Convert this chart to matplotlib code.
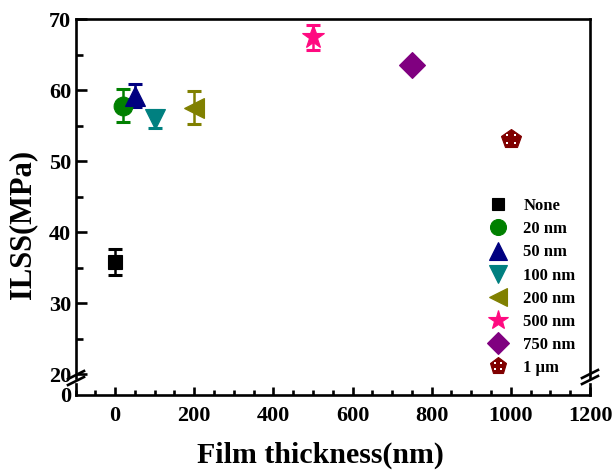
import matplotlib
matplotlib.use("Agg")
import matplotlib.pyplot as plt
from matplotlib.lines import Line2D
from matplotlib.path import Path
from matplotlib.ticker import MultipleLocator

# ---- data ----
labels = ["None", "20 nm", "50 nm", "100 nm", "200 nm", "500 nm", "750 nm", "1 \u03bcm"]
thickness = [0, 20, 50, 100, 200, 500, 750, 1000]
ilss = [35.8, 57.8, 59.2, 55.9, 57.5, 67.4, 63.5, 53.1]
ilss_err = [1.8, 2.3, 1.6, 1.3, 2.3, 1.7, 0.0, 0.0]
colors = ["#000000", "#008000", "#000080", "#008080", "#808000", "#FF0A80", "#800080", "#800000"]
markers = ["s", "o", "^", "v", "<", "*", "D", "p"]
msizes = [10.5, 13.5, 15, 15, 15, 17, 13, 15]
x_ticks = [0, 200, 400, 600, 800, 1000, 1200]
y_ticks = [20, 30, 40, 50, 60, 70]

plt.rcParams["font.family"] = ["Liberation Serif", "DejaVu Serif"]
plt.rcParams["font.weight"] = "bold"

W, H = 613, 472
fig = plt.figure(figsize=(W / 100, H / 100), dpi=100)

left, right = 75.5 / W, 590 / W
top_px, up_bot_px, lo_top_px, lo_bot_px = 19, 378, 384, 395
ax = fig.add_axes([left, 1 - up_bot_px / H, right - left, (up_bot_px - top_px) / H])
axl = fig.add_axes([left, 1 - lo_bot_px / H, right - left, (lo_bot_px - lo_top_px) / H], sharex=ax)

scale = (up_bot_px - top_px) / (70 - 19.44)
ax.set_ylim(19.44, 70)
axl.set_ylim(0, (lo_bot_px - lo_top_px) / scale)
ax.set_xlim(-100, 1200)

lw = 1.9
for a in (ax, axl):
    for s in a.spines.values():
        s.set_linewidth(lw)
ax.spines["bottom"].set_visible(False)
axl.spines["top"].set_visible(False)

ax.tick_params(axis="x", which="both", bottom=False, labelbottom=False)
ax.set_yticks(y_ticks)
ax.yaxis.set_minor_locator(MultipleLocator(5))
ax.tick_params(axis="y", which="major", direction="in", length=8, width=lw, labelsize=16, pad=3)
ax.tick_params(axis="y", which="minor", direction="in", length=5, width=lw)

axl.set_yticks([0])
axl.tick_params(axis="y", which="major", direction="in", length=0, labelsize=16, pad=3)
axl.set_xticks(x_ticks)
axl.xaxis.set_minor_locator(MultipleLocator(50))
axl.tick_params(axis="x", which="major", direction="in", length=6, width=lw, labelsize=16, pad=8)
axl.tick_params(axis="x", which="minor", direction="in", length=3.5, width=lw)
for t in ax.get_yticklabels() + axl.get_yticklabels() + axl.get_xticklabels():
    t.set_fontweight("bold")

# four-dot marker for the 1 um symbol
def dots_path():
    verts, codes = [], []
    for cx in (-0.5, 0.5):
        for cy in (-0.5, 0.5):
            h = 0.14
            sq = [(cx - h, cy - h), (cx + h, cy - h), (cx + h, cy + h), (cx - h, cy + h), (cx - h, cy - h)]
            verts += sq
            codes += [Path.MOVETO, Path.LINETO, Path.LINETO, Path.LINETO, Path.CLOSEPOLY]
    return Path(verts, codes)

dots = dots_path()
handles = []
for i in range(len(labels)):
    if ilss_err[i] > 0:
        ax.errorbar(thickness[i], ilss[i], yerr=ilss_err[i], fmt="none", ecolor=colors[i],
                    elinewidth=1.8, capsize=5, capthick=2.2, zorder=2)
    (h,) = ax.plot(thickness[i], ilss[i], linestyle="none", marker=markers[i], ms=msizes[i],
                   color=colors[i], markeredgecolor=colors[i], markeredgewidth=0.8, zorder=3)
    if markers[i] == "p":
        (d,) = ax.plot(thickness[i], ilss[i], linestyle="none", marker=dots, ms=msizes[i] * 0.45,
                       color="white", markeredgewidth=0, zorder=4)
        handles.append((h, d))
    else:
        handles.append(h)

leg = ax.legend(handles, labels, loc="upper left", bbox_to_anchor=(490 / W, 1 - 198 / H),
                bbox_transform=fig.transFigure, frameon=False, borderpad=0, borderaxespad=0,
                handlelength=1.0, handletextpad=1.0, labelspacing=0.43, markerscale=0.85,
                prop={"family": "Liberation Serif", "weight": "bold", "size": 12})

fig.text(23 / W, 1 - 224 / H, "ILSS(MPa)", rotation=90, ha="center", va="center",
         fontsize=22, fontweight="bold")
fig.text(320 / W, 1 - 455 / H, "Film thickness(nm)", ha="center", va="center",
         fontsize=21.5, fontweight="bold")

# break marks
def brk(xpx, ypx):
    for dy in (-3, 3):
        x0, y0 = xpx - 8, ypx + dy + 4
        x1, y1 = xpx + 8, ypx + dy - 4
        fig.add_artist(Line2D([x0 / W, x1 / W], [1 - y0 / H, 1 - y1 / H], color="black",
                              lw=1.9, transform=fig.transFigure, clip_on=False, zorder=10))

brk(76, 378)
brk(590, 377)

fig.savefig("out.png", dpi=100)
